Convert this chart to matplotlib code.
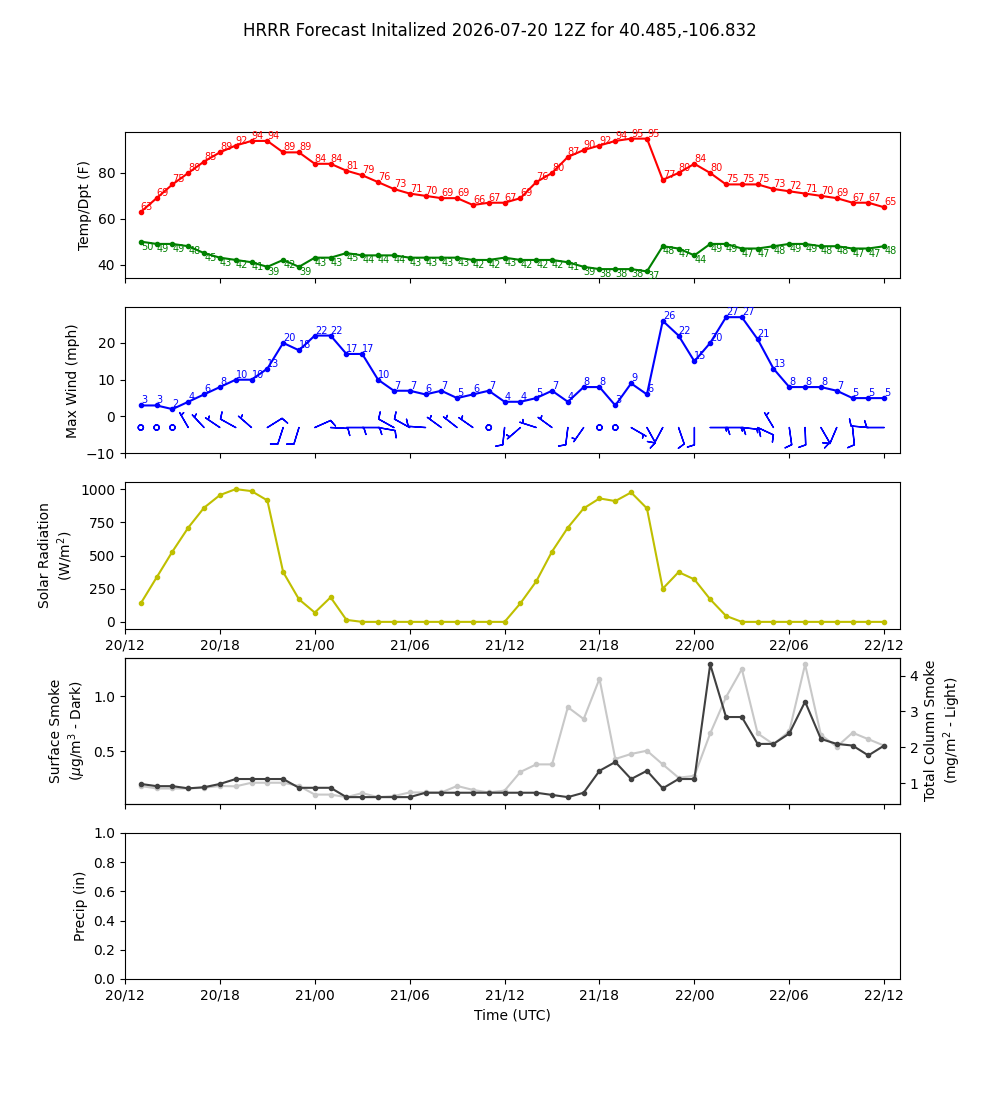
import matplotlib
matplotlib.use('Agg')
import matplotlib.pyplot as plt
import matplotlib.dates as mdates
import numpy as np
import pandas as pd

# ---------------- data ----------------
times = pd.date_range('2026-07-20 13:00', periods=48, freq='h')

temp_f = [63, 69, 75, 80, 85, 89, 92, 94, 94, 89, 89, 84, 84, 81, 79, 76, 73, 71, 70, 69, 69, 66, 67, 67,
          69, 76, 80, 87, 90, 92, 94, 95, 95, 77, 80, 84, 80, 75, 75, 75, 73, 72, 71, 70, 69, 67, 67, 65]

dewp_f = [50, 49, 49, 48, 45, 43, 42, 41, 39, 42, 39, 43, 43, 45, 44, 44, 44, 43, 43, 43, 43, 42, 42, 43,
          42, 42, 42, 41, 39, 38, 38, 38, 37, 48, 47, 44, 49, 49, 47, 47, 48, 49, 49, 48, 48, 47, 47, 48]

max_wind_mph = [3, 3, 2, 4, 6, 8, 10, 10, 13, 20, 18, 22, 22, 17, 17, 10, 7, 7, 6, 7, 5, 6, 7, 4,
                4, 5, 7, 4, 8, 8, 3, 9, 6, 26, 22, 15, 20, 27, 27, 21, 13, 8, 8, 8, 7, 5, 5, 5]

# wind barbs: direction the wind comes from (deg) and speed (kt)
wind_dir_deg = [0, 0, 0, 330, 317, 304, 299, 311, 58, 198, 197, 66, 93, 90, 90, 100, 299, 299, 274, 306,
                308, 305, 0, 186, 229, 288, 306, 187, 215, 0, 0, 120, 151, 208, 161, 180, 90, 90, 96, 115,
                329, 172, 178, 150, 203, 174, 275, 270]
wind_spd_kt = [0, 0, 0, 5, 5, 5, 10, 5, 10, 10, 10, 10, 10, 10, 10, 10, 10, 10, 10, 5,
               5, 5, 0, 10, 5, 5, 5, 10, 5, 0, 0, 5, 10, 10, 10, 10, 15, 15, 15, 10,
               5, 10, 10, 10, 10, 10, 10, 10]

solar_wm2 = [140, 335, 530, 710, 860, 955, 1000, 985, 915, 375, 170, 70, 185, 15, 0, 0, 0, 0, 0, 0, 0, 0, 0, 0,
             140, 305, 530, 710, 855, 930, 910, 975, 855, 250, 375, 320, 170, 45, 0, 0, 0, 0, 0, 0, 0, 0, 0, 0]

sfc_smoke = [0.20, 0.18, 0.18, 0.16, 0.17, 0.20, 0.245, 0.245, 0.245, 0.245, 0.165, 0.165, 0.165, 0.08,
             0.08, 0.08, 0.08, 0.08, 0.12, 0.12, 0.12, 0.12, 0.12, 0.12,
             0.12, 0.12, 0.10, 0.08, 0.12, 0.32, 0.40, 0.245, 0.32, 0.16, 0.245, 0.245, 1.29, 0.81,
             0.81, 0.565, 0.565, 0.66, 0.95, 0.61, 0.565, 0.55, 0.46, 0.55]

col_smoke = [0.93, 0.86, 0.86, 0.86, 0.88, 0.93, 0.92, 1.02, 1.02, 1.02, 0.93, 0.69, 0.69, 0.62,
             0.73, 0.62, 0.65, 0.75, 0.75, 0.75, 0.93, 0.82, 0.75, 0.80,
             1.32, 1.53, 1.53, 3.12, 2.79, 3.91, 1.68, 1.82, 1.91, 1.53, 1.16, 1.21, 2.39, 3.40,
             4.18, 2.39, 2.09, 2.45, 4.31, 2.35, 2.02, 2.41, 2.23, 2.05]

title = 'HRRR Forecast Initalized 2026-07-20 12Z for 40.485,-106.832'
x_start = pd.Timestamp('2026-07-20 12:00')
x_end = pd.Timestamp('2026-07-22 13:00')

# ---------------- plot ----------------
x = mdates.date2num(times.to_pydatetime())

fig, axes = plt.subplots(5, 1, figsize=(10, 11), dpi=100, sharex=True)
fig.suptitle(title)

# Temperature / dewpoint
ax1 = axes[0]
ax1.plot(x, temp_f, '.-', color='r')
ax1.plot(x, dewp_f, '.-', color='g')
for xi, t in zip(x, temp_f):
    ax1.text(xi, t, f'{t}', color='r', fontsize=7, ha='left', va='bottom')
for xi, d in zip(x, dewp_f):
    ax1.text(xi, d, f'{d}', color='g', fontsize=7, ha='left', va='top')
ax1.set_ylabel('Temp/Dpt (F)')

# Wind
ax2 = axes[1]
ax2.plot(x, max_wind_mph, '.-', color='b')
for xi, w in zip(x, max_wind_mph):
    ax2.text(xi, w, f'{w}', color='b', fontsize=7, ha='left', va='bottom')
d = np.deg2rad(np.array(wind_dir_deg, dtype=float))
s = np.array(wind_spd_kt, dtype=float)
u = -s * np.sin(d)
v = -s * np.cos(d)
ax2.barbs(x, np.full(len(x), -3.0), u, v, length=5, color='b')
ax2.set_ylim(-10, max(max_wind_mph) * 1.1)
ax2.set_ylabel('Max Wind (mph)')

# Solar radiation
ax3 = axes[2]
ax3.plot(x, solar_wm2, '.-', color='y')
ax3.set_ylabel('Solar Radiation\n(W/m$^2$)')

# Smoke
ax4 = axes[3]
ax4b = ax4.twinx()
ax4.plot(x, sfc_smoke, '.-', color='#404040')
ax4b.plot(x, col_smoke, '.-', color='#c8c8c8')
ax4.set_zorder(ax4b.get_zorder() + 1)
ax4.patch.set_visible(False)
ax4.set_ylabel('Surface Smoke\n($\\mu$g/m$^3$ - Dark)')
ax4b.set_ylabel('Total Column Smoke\n(mg/m$^2$ - Light)')

# Precip
ax5 = axes[4]
ax5.set_ylim(0, 1)
ax5.set_ylabel('Precip (in)')
ax5.set_xlabel('Time (UTC)')

ax5.set_xlim(mdates.date2num(x_start.to_pydatetime()), mdates.date2num(x_end.to_pydatetime()))
ax5.xaxis.set_major_locator(mdates.HourLocator(byhour=[0, 6, 12, 18]))
ax5.xaxis.set_major_formatter(mdates.DateFormatter('%d/%H'))
ax3.tick_params(axis='x', labelbottom=True)

fig.savefig('out.png', dpi=100)
